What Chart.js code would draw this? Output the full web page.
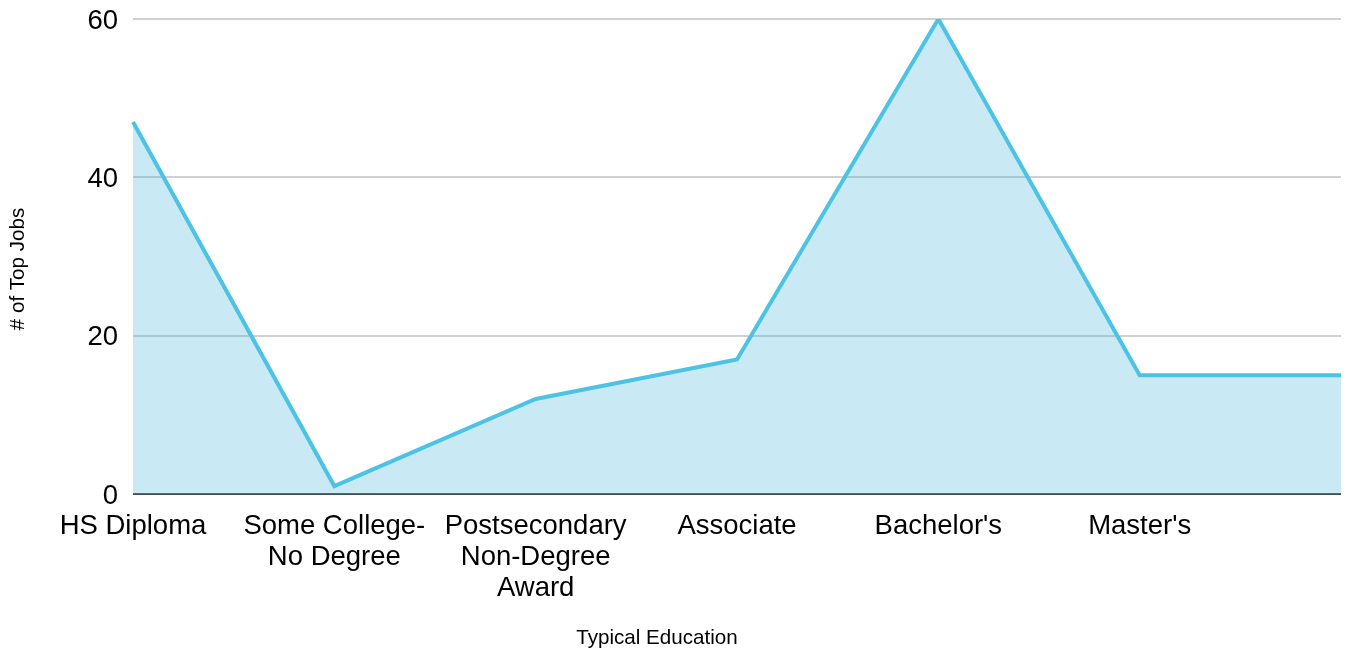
<!DOCTYPE html>
<html>
<head>
<meta charset="utf-8">
<script src="https://cdn.jsdelivr.net/npm/chart.js@4/dist/chart.umd.min.js"></script>
<style>
  html, body { margin: 0; padding: 0; background: #fff; overflow: hidden; }
  #wrap { width: 1348px; height: 655px; }
  canvas { display: block; }
</style>
</head>
<body>
<div id="wrap"><canvas id="eduChart"></canvas></div>
<script>
// typical education level vs number of top jobs
const educationLevels = [
    'HS Diploma',
    ['Some College-', 'No Degree'],
    ['Postsecondary', 'Non-Degree', 'Award'],
    'Associate',
    "Bachelor's",
    "Master's",
    ''
];
const topJobCounts = [47, 1, 12, 17, 60, 15, 15];
const yTicks = [0, 20, 40, 60];
const xTitle = 'Typical Education';
const yTitle = '# of Top Jobs';

const LINE_COLOR = '#4cc3e4';
const FILL_COLOR = 'rgba(75, 185, 222, 0.3)';
const FONT = 'Liberation Sans, Arial, sans-serif';

// axis titles sit a little off-centre, so draw them by hand
const axisTitles = {
    id: 'axisTitles',
    afterDraw(chart) {
        const ctx = chart.ctx;
        ctx.save();
        ctx.fillStyle = '#000';
        ctx.font = '20.6px ' + FONT;
        ctx.textAlign = 'center';
        ctx.textBaseline = 'middle';
        ctx.fillText(xTitle, 657, 638);
        ctx.translate(18, 269);
        ctx.rotate(-Math.PI / 2);
        ctx.fillText(yTitle, 0, 0);
        ctx.restore();
    }
};

new Chart(document.getElementById('eduChart'), {
    type: 'line',
    data: {
        labels: educationLevels,
        datasets: [{
            data: topJobCounts,
            borderColor: LINE_COLOR,
            backgroundColor: FILL_COLOR,
            borderWidth: 4,
            fill: 'origin',
            tension: 0,
            pointRadius: 0,
            borderJoinStyle: 'miter'
        }]
    },
    plugins: [axisTitles],
    options: {
        responsive: true,
        maintainAspectRatio: false,
        animation: false,
        layout: { padding: { top: 19, right: 7, bottom: 0, left: 0 } },
        plugins: {
            legend: { display: false },
            tooltip: { enabled: false }
        },
        scales: {
            x: {
                offset: false,
                afterFit: scale => {
                    scale.height = 161;
                    scale.paddingLeft = 0;
                    scale.paddingRight = 0;
                },
                grid: { display: false, drawTicks: false },
                border: { display: false },
                ticks: {
                    autoSkip: false,
                    maxRotation: 0,
                    minRotation: 0,
                    padding: 17,
                    color: '#000',
                    font: { family: FONT, size: 27.5, lineHeight: 1.13 }
                }
            },
            y: {
                min: 0,
                max: 60,
                afterBuildTicks: scale => {
                    scale.ticks = yTicks.map(v => ({ value: v }));
                },
                afterFit: scale => {
                    scale.width = 133;
                    scale.paddingTop = 0;
                    scale.paddingBottom = 0;
                },
                grid: {
                    drawTicks: false,
                    lineWidth: 2,
                    color: ctx => ctx.tick && ctx.tick.value === 0 ? '#3f5157' : '#d0d0d0'
                },
                border: { display: false },
                ticks: {
                    padding: 15,
                    labelOffset: 2,
                    color: '#000',
                    font: { family: FONT, size: 27.5 }
                }
            }
        }
    }
});
</script>
</body>
</html>
